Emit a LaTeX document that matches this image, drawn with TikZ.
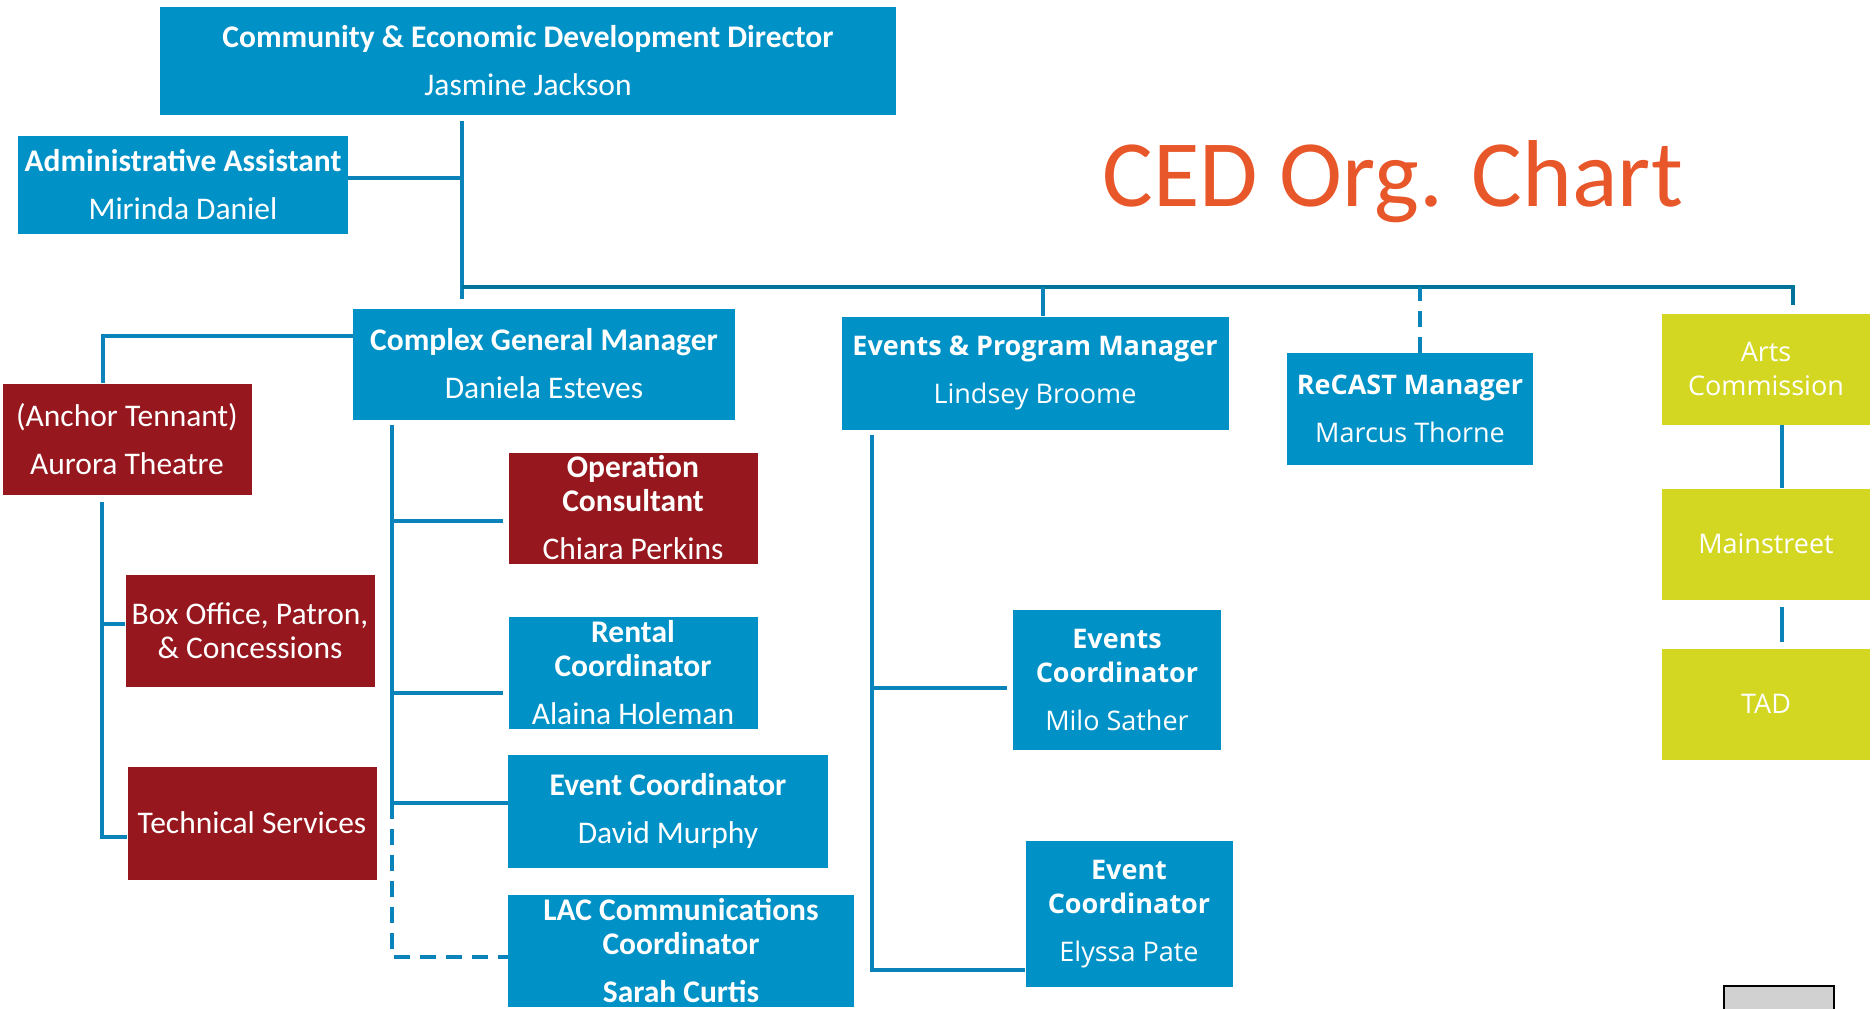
\documentclass[tikz,border=0pt]{standalone}
\usepackage{fontspec}
\setmainfont{Carlito}
\newfontfamily\osans{Open Sans}

\definecolor{cedblue}{HTML}{0092C7}
\definecolor{cedred}{HTML}{96181E}
\definecolor{cedlime}{HTML}{D4D722}
\definecolor{cedorange}{HTML}{E8572A}
\definecolor{cedline}{HTML}{0A82BA}
\definecolor{cedbus}{HTML}{00739A}

\tikzset{
  unit/.style={rectangle, inner sep=0pt, align=center, text=white},
  bluebox/.style={unit, fill=cedblue},
  redbox/.style={unit, fill=cedred},
  limebox/.style={unit, fill=cedlime},
  calfont/.style={font=\fontsize{31.5}{34}\selectfont},
  osfont/.style={font=\osans\fontsize{27}{34}\selectfont},
  link/.style={draw=cedline, line width=4.5pt},
  busline/.style={draw=cedbus, line width=4.5pt},
  dashlink/.style={link, dash pattern=on 16pt off 10pt},
}

\begin{document}
\begin{tikzpicture}[x=1pt, y=-1pt]
  \useasboundingbox (0,0) rectangle (1874,1009);

  \node (title) [anchor=base, text=cedorange, font=\fontsize{95}{110}\selectfont] at (1393,206) {CED Org. Chart};

  \node (director) [bluebox, calfont, minimum width=736pt, minimum height=108pt] at (528,61) {\textbf{Community \& Economic Development Director}\\[14pt] Jasmine Jackson};
  \node (admin) [bluebox, calfont, minimum width=330pt, minimum height=98pt] at (183,185) {\textbf{Administrative Assistant}\\[14pt] Mirinda Daniel};
  \node (cgm) [bluebox, calfont, minimum width=382pt, minimum height=111pt] at (544,364) {\textbf{Complex General Manager}\\[14pt] Daniela Esteves};
  \node (anchor) [redbox, calfont, minimum width=249pt, minimum height=111pt] at (127,439) {(Anchor Tennant)\\[14pt] Aurora Theatre};
  \node (boxoffice) [redbox, calfont, minimum width=249pt, minimum height=112pt] at (250,631) {Box Office, Patron,\\ \& Concessions};
  \node (tech) [redbox, calfont, minimum width=249pt, minimum height=113pt] at (252,823) {Technical Services};
  \node (opcons) [redbox, calfont, minimum width=249pt, minimum height=111pt] at (633,508) {\textbf{Operation}\\ \textbf{Consultant}\\[14pt] Chiara Perkins};
  \node (rental) [bluebox, calfont, minimum width=249pt, minimum height=112pt] at (633,673) {\textbf{Rental}\\ \textbf{Coordinator}\\[14pt] Alaina Holeman};
  \node (evcoord) [bluebox, calfont, minimum width=320pt, minimum height=113pt] at (668,811) {\textbf{Event Coordinator}\\[14pt] David Murphy};
  \node (lac) [bluebox, calfont, minimum width=346pt, minimum height=112pt] at (681,951) {\textbf{LAC Communications}\\ \textbf{Coordinator}\\[14pt] \textbf{Sarah Curtis}};

  \node (epm) [bluebox, osfont, minimum width=387pt, minimum height=113pt] at (1035,373) {\textbf{Events \& Program Manager}\\[14pt] Lindsey Broome};
  \node (milo) [bluebox, osfont, minimum width=208pt, minimum height=140pt] at (1117,680) {\textbf{Events}\\ \textbf{Coordinator}\\[14pt] Milo Sather};
  \node (elyssa) [bluebox, osfont, minimum width=207pt, minimum height=146pt] at (1129,914) {\textbf{Event}\\ \textbf{Coordinator}\\[14pt] Elyssa Pate};
  \node (recast) [bluebox, osfont, minimum width=246pt, minimum height=112pt] at (1410,409) {\textbf{ReCAST Manager}\\[14pt] Marcus Thorne};

  \node (arts) [limebox, osfont, minimum width=208pt, minimum height=111pt] at (1766,369) {Arts\\ Commission};
  \node (mainst) [limebox, osfont, minimum width=208pt, minimum height=111pt] at (1766,544) {Mainstreet};
  \node (tad) [limebox, osfont, minimum width=208pt, minimum height=111pt] at (1766,704) {TAD};

  \node (corner) [rectangle, fill=black!18, draw=black, line width=2.5pt, minimum width=110pt, minimum height=48pt] at (1779,1010) {};

  \coordinate (bus-l) at (462,287);
  \coordinate (bus-r) at (1793,287);
  \coordinate (cgm-rail) at (392,425);
  \coordinate (anchor-rail) at (102,502);
  \coordinate (epm-rail) at (872,435);

  % director, assistant and the bus
  \draw[link, shorten <=6pt] (director.south -| bus-l) -- ([yshift=-12pt]bus-l);
  \draw[link] ([yshift=7pt]admin.east) -- ([yshift=7pt]admin.east -| bus-l);
  \draw[busline, shorten >=8pt] (bus-l) -- (bus-r) -- (arts.north -| bus-r);
  \draw[link] ([xshift=8pt]epm.north) -- ([xshift=8pt]epm.north |- bus-l);
  \draw[dashlink] ([xshift=10pt]recast.north) -- ([xshift=10pt]recast.north |- bus-l);

  % complex general manager
  \draw[link] ([yshift=28pt]cgm.west) -| ([xshift=-24pt]anchor.north);
  \draw[link] (anchor-rail) |- ([yshift=-14pt]tech.west);
  \draw[link] ([yshift=7pt]boxoffice.west) -- ([yshift=7pt]boxoffice.west -| anchor-rail);
  \draw[link] (cgm-rail) |- ([yshift=8pt]evcoord.west);
  \draw[link, shorten <=5pt] ([yshift=-13pt]opcons.west) -- ([yshift=-13pt]opcons.west -| cgm-rail);
  \draw[link, shorten <=5pt] ([yshift=-20pt]rental.west) -- ([yshift=-20pt]rental.west -| cgm-rail);
  \draw[dashlink] ([yshift=8pt]evcoord.west -| cgm-rail) |- ([yshift=-6pt]lac.west);

  % events and program manager
  \draw[link] (epm-rail) |- ([yshift=-56pt]elyssa.west);
  \draw[link, shorten <=6pt] ([yshift=-8pt]milo.west) -- ([yshift=-8pt]milo.west -| epm-rail);

  % arts commission
  \draw[link] ([xshift=16pt]arts.south) -- ([xshift=16pt]mainst.north);
  \draw[link, shorten <=7pt, shorten >=6pt] ([xshift=16pt]mainst.south) -- ([xshift=16pt]tad.north);
\end{tikzpicture}
\end{document}
